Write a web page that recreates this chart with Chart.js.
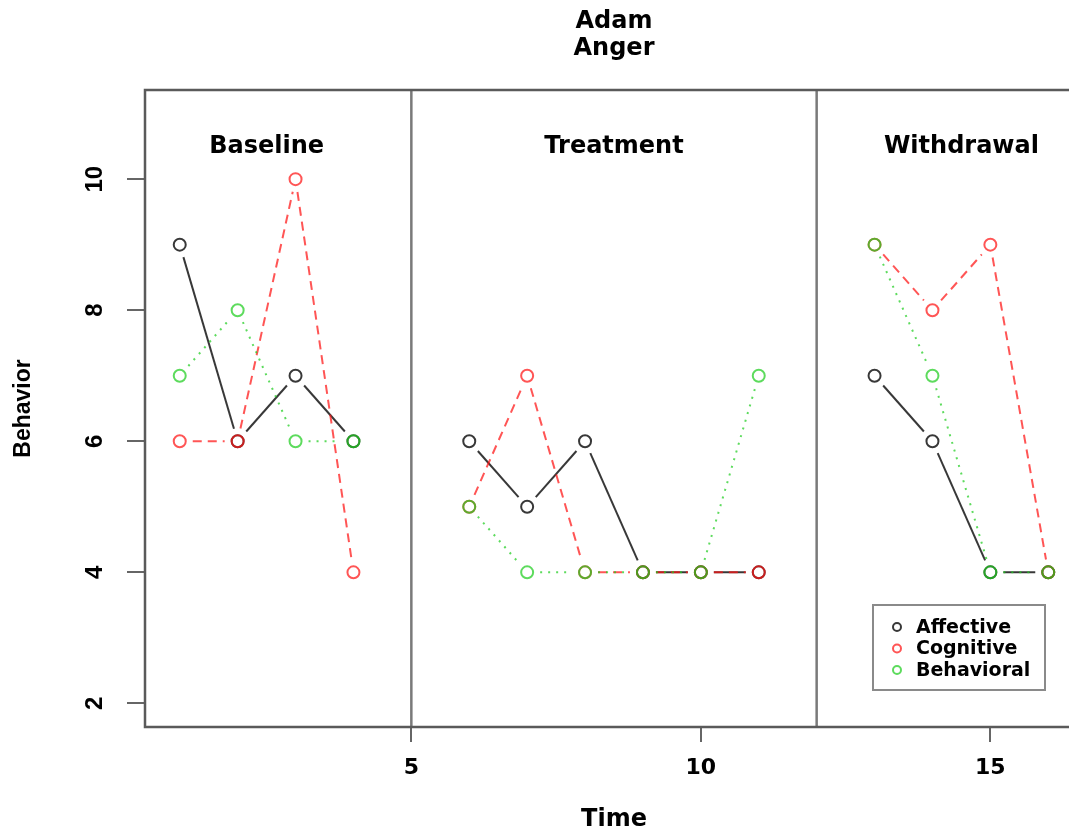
<!DOCTYPE html>
<html>
<head>
<meta charset="utf-8">
<script src="https://cdn.jsdelivr.net/npm/chart.js@4/dist/chart.umd.min.js"></script>
<style>
  html, body { margin: 0; padding: 0; background: #fff; overflow: hidden; width: 1069px; height: 832px; }
  canvas { display: block; }
</style>
</head>
<body>
<canvas id="c" width="1100" height="832"></canvas>
<script>
// ---- data ----
const titleLines = ['Adam', 'Anger'];
const time = [1, 2, 3, 4, 5, 6, 7, 8, 9, 10, 11, 12, 13, 14, 15, 16];
const affective  = [9, 6, 7, 6, null, 6, 5, 6, 4, 4, 4, null, 7, 6, 4, 4];
const cognitive  = [6, 6, 10, 4, null, 5, 7, 4, 4, 4, 4, null, 9, 8, 9, 4];
const behavioral = [7, 8, 6, 6, null, 5, 4, 4, 4, 4, 7, null, 9, 7, 4, 4];
const seriesNames = ['Affective', 'Cognitive', 'Behavioral'];
const phaseNames = ['Baseline', 'Treatment', 'Withdrawal'];
const phaseCenters = [2.5, 8.5, 14.5];
const phaseLabelY = 10.5;
const phaseBreaks = [5, 12];
const xTicks = [5, 10, 15];
const yTicks = [2, 4, 6, 8, 10];

const colors = ['rgba(0,0,0,0.78)', 'rgba(255,20,20,0.72)', 'rgba(30,205,30,0.72)'];
const dashes = [[], [9, 6], [2, 6]];

const toPts = vals => time.map((t, i) => ({ x: t, y: vals[i] }));

const datasets = [affective, cognitive, behavioral].map((vals, i) => ({
  label: seriesNames[i],
  data: toPts(vals),
  order: 3 - i,
  showLine: false,
  borderColor: colors[i],
  borderWidth: 2,
  borderDash: dashes[i],
  pointStyle: 'circle',
  pointRadius: 6,
  pointBorderWidth: 2,
  pointBorderColor: colors[i],
  pointBackgroundColor: 'rgba(0,0,0,0)',
  pointHoverRadius: 6
}));

const GAP = 13;

const decor = {
  id: 'decor',
  beforeDatasetsDraw(chart) {
    const { ctx, chartArea: a, scales: { x, y } } = chart;
    ctx.save();
    // phase change lines
    ctx.strokeStyle = '#7a7a7a';
    ctx.lineWidth = 2.5;
    phaseBreaks.forEach(v => {
      const px = x.getPixelForValue(v);
      ctx.beginPath(); ctx.moveTo(px, a.top); ctx.lineTo(px, a.bottom); ctx.stroke();
    });
    // phase labels
    ctx.fillStyle = '#000';
    ctx.font = 'bold 24px "DejaVu Sans"';
    ctx.textAlign = 'center';
    ctx.textBaseline = 'middle';
    phaseNames.forEach((n, i) => {
      ctx.fillText(n, x.getPixelForValue(phaseCenters[i]), y.getPixelForValue(phaseLabelY));
    });
    // connecting segments (type "b": gaps around points)
    chart.data.datasets.forEach((ds, di) => {
      const meta = chart.getDatasetMeta(di);
      ctx.strokeStyle = ds.borderColor;
      ctx.lineWidth = ds.borderWidth;
      ctx.setLineDash(ds.borderDash || []);
      for (let i = 0; i < ds.data.length - 1; i++) {
        if (ds.data[i].y == null || ds.data[i + 1].y == null) continue;
        const p = meta.data[i], q = meta.data[i + 1];
        const dx = q.x - p.x, dy = q.y - p.y;
        const len = Math.hypot(dx, dy);
        if (len <= 2 * GAP) continue;
        const ux = dx / len, uy = dy / len;
        ctx.beginPath();
        ctx.moveTo(p.x + ux * GAP, p.y + uy * GAP);
        ctx.lineTo(q.x - ux * GAP, q.y - uy * GAP);
        ctx.stroke();
      }
    });
    ctx.restore();
  },
  afterDraw(chart) {
    const { ctx, chartArea: a } = chart;
    ctx.save();
    // box
    ctx.strokeStyle = '#5a5a5a';
    ctx.lineWidth = 2.5;
    ctx.strokeRect(a.left, a.top, a.right - a.left, a.bottom - a.top);
    // title
    ctx.fillStyle = '#000';
    ctx.font = 'bold 24px "DejaVu Sans"';
    ctx.textAlign = 'center';
    ctx.textBaseline = 'middle';
    const cx = (a.left + a.right) / 2;
    ctx.fillText(titleLines[0], cx, 22);
    ctx.fillText(titleLines[1], cx, 49);
    // legend
    const lx = 873, ly = 605, lw = 172, lh = 85;
    ctx.fillStyle = '#fff';
    ctx.fillRect(lx, ly, lw, lh);
    ctx.strokeStyle = '#8a8a8a';
    ctx.lineWidth = 2;
    ctx.strokeRect(lx, ly, lw, lh);
    ctx.font = 'bold 19px "DejaVu Sans"';
    ctx.textAlign = 'left';
    ctx.textBaseline = 'middle';
    chart.data.datasets.forEach((ds, i) => {
      const ry = 627 + i * 21.5;
      ctx.beginPath();
      ctx.arc(897, ry, 4, 0, Math.PI * 2);
      ctx.strokeStyle = ds.borderColor;
      ctx.lineWidth = 2;
      ctx.setLineDash([]);
      ctx.stroke();
      ctx.fillStyle = '#000';
      ctx.fillText(ds.label, 916, ry + 1);
    });
    ctx.restore();
  }
};

new Chart(document.getElementById('c'), {
  type: 'line',
  data: { datasets },
  options: {
    responsive: false,
    animation: false,
    devicePixelRatio: 1,
    layout: { padding: { top: 90, right: 17, left: 0, bottom: 0 } },
    plugins: { legend: { display: false }, tooltip: { enabled: false }, title: { display: false } },
    scales: {
      x: {
        type: 'linear',
        min: 0.4,
        max: 16.6,
        afterBuildTicks: s => { s.ticks = xTicks.map(v => ({ value: v })); },
        afterFit: s => { s.height = 105; },
        border: { display: false },
        grid: { display: true, drawOnChartArea: false, drawTicks: true, tickLength: 15, color: '#666', lineWidth: 2 },
        ticks: { color: '#000', padding: 13, maxRotation: 0, font: { family: 'DejaVu Sans', weight: 'bold', size: 22 } },
        title: { display: true, text: 'Time', color: '#000', padding: { top: 0, bottom: -2 }, font: { family: 'DejaVu Sans', weight: 'bold', size: 24 } }
      },
      y: {
        type: 'linear',
        min: 1.64,
        max: 11.36,
        afterBuildTicks: s => { s.ticks = yTicks.map(v => ({ value: v })); },
        afterFit: s => { s.width = 145; },
        border: { display: false },
        grid: { display: true, drawOnChartArea: false, drawTicks: true, tickLength: 18, color: '#666', lineWidth: 2 },
        ticks: { color: '#000', padding: 18, minRotation: 90, maxRotation: 90, crossAlign: 'center', font: { family: 'Liberation Sans', weight: 'bold', size: 24 } },
        title: { display: true, text: 'Behavior', color: '#000', padding: { top: 10, bottom: 0 }, font: { family: 'Liberation Sans', weight: 'bold', size: 23 } }
      }
    }
  },
  plugins: [decor]
});
</script>
</body>
</html>
